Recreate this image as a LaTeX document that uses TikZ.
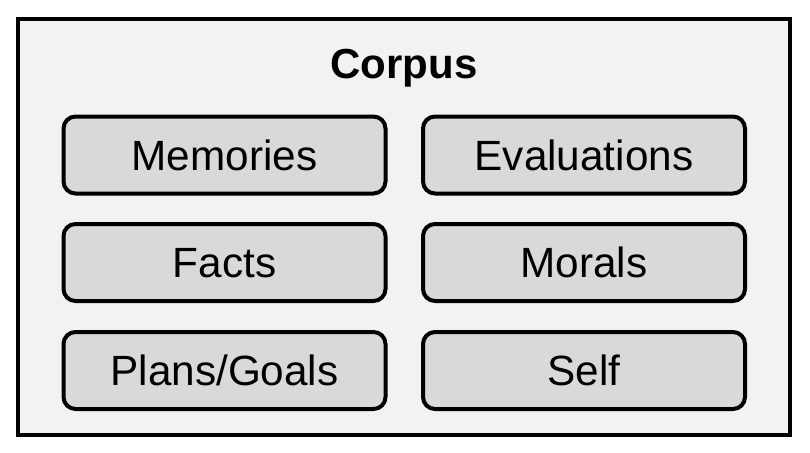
\documentclass[tikz,border=0pt]{standalone}
\usepackage{fontspec}
\setmainfont{Liberation Sans}
\definecolor{outerfill}{HTML}{F2F2F2}
\definecolor{innerfill}{HTML}{D9D9D9}
\begin{document}
\begin{tikzpicture}[x=1pt,y=-1pt,
  itembox/.style={draw=black,line width=4pt,fill=innerfill,rounded corners=12pt,
    minimum width=322pt,minimum height=77pt,inner sep=0pt,text height=30pt,text depth=0pt,
    font=\fontsize{42.3}{48}\selectfont},
  outerbox/.style={draw=black,line width=4pt,fill=outerfill,minimum width=772pt,minimum height=416pt,inner sep=0pt}]
\useasboundingbox (0,0) rectangle (810,452);
\node[outerbox] (corpusbox) at (404,227) {};
\node[font=\fontsize{42}{48}\selectfont\bfseries,anchor=base,inner sep=0pt] (title) at (404,78) {Corpus};
\node[itembox] (mem) at (224.5,155) {Memories};
\node[itembox] (eval) at (584,155) {Evaluations};
\node[itembox] (facts) at (224.5,262.5) {Facts};
\node[itembox] (morals) at (584,262.5) {Morals};
\node[itembox] (plans) at (224.5,370.5) {Plans/Goals};
\node[itembox] (self) at (584,370.5) {Self};
\end{tikzpicture}
\end{document}
